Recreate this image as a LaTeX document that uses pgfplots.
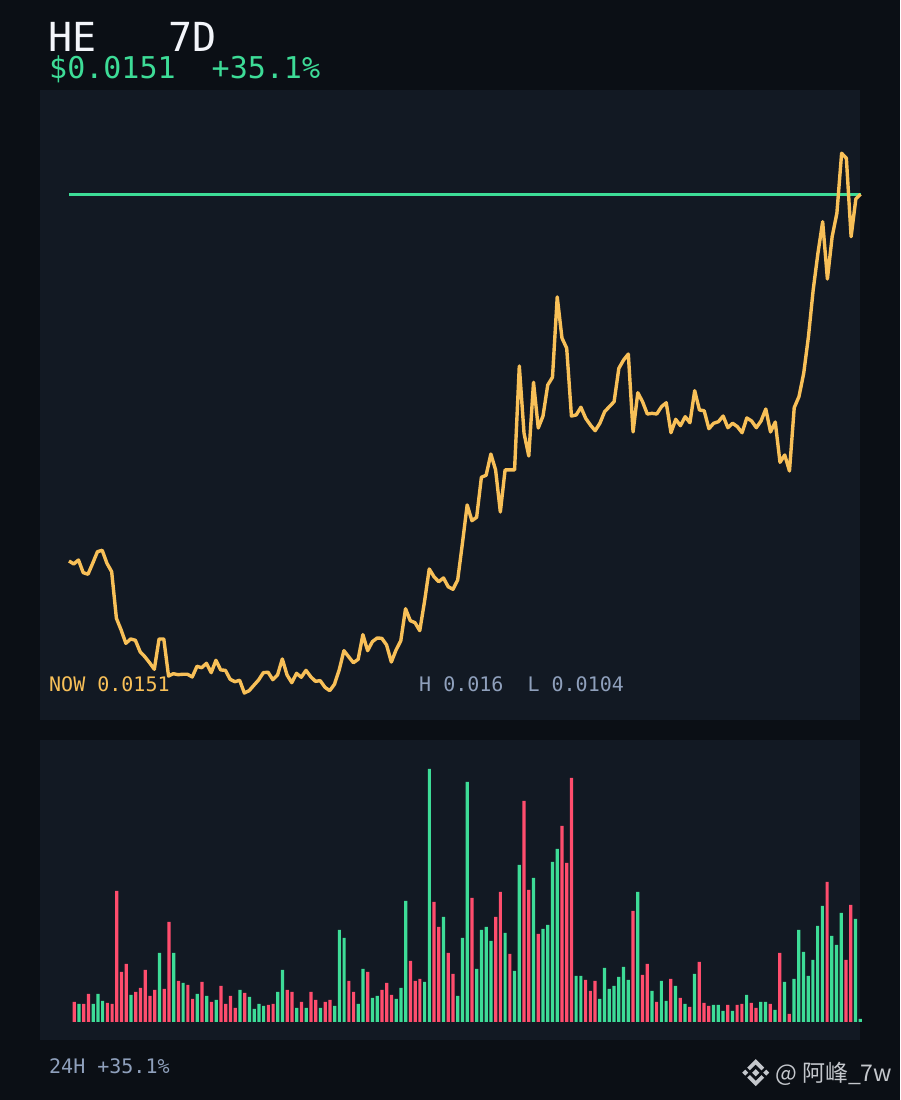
\documentclass[border=0pt]{standalone}
\usepackage{pgfplots}
\usepackage{pgfplotstable}
\usepackage{fontspec}
\pgfplotsset{compat=1.18}
\setmonofont{DejaVu Sans Mono}
\newfontfamily\cjk{Noto Sans CJK SC}
\definecolor{bgc}{RGB}{11,15,21}
\definecolor{panel}{RGB}{18,25,35}
\definecolor{upc}{HTML}{3DDC97}
\definecolor{downc}{HTML}{FF4D6D}
\definecolor{amber}{HTML}{F8C058}
\definecolor{greyc}{HTML}{8FA0BC}
\definecolor{whitec}{HTML}{F3F5FA}
\definecolor{wm}{HTML}{C4C7CC}

\pgfplotstableread{
p
0.011769
0.011738
0.011779
0.011648
0.011631
0.011745
0.011865
0.011880
0.011745
0.011658
0.011175
0.011053
0.010915
0.010960
0.010947
0.010828
0.010776
0.010714
0.010646
0.010960
0.010960
0.010576
0.010600
0.010590
0.010594
0.010594
0.010566
0.010677
0.010662
0.010708
0.010611
0.010739
0.010639
0.010635
0.010542
0.010517
0.010532
0.010400
0.010424
0.010480
0.010535
0.010611
0.010615
0.010538
0.010587
0.010753
0.010587
0.010507
0.010604
0.010563
0.010635
0.010569
0.010521
0.010528
0.010459
0.010424
0.010490
0.010639
0.010839
0.010776
0.010714
0.010749
0.011005
0.010839
0.010932
0.010970
0.010967
0.010898
0.010721
0.010846
0.010942
0.011274
0.011150
0.011129
0.011046
0.011347
0.011686
0.011606
0.011554
0.011593
0.011502
0.011475
0.011572
0.011952
0.012350
0.012187
0.012222
0.012637
0.012658
0.012878
0.012713
0.012277
0.012713
0.012713
0.012713
0.013791
0.013093
0.012858
0.013622
0.013148
0.013272
0.013594
0.013674
0.014507
0.014081
0.013975
0.013272
0.013283
0.013363
0.013249
0.013179
0.013120
0.013197
0.013317
0.013369
0.013421
0.013767
0.013853
0.013915
0.013107
0.013514
0.013421
0.013293
0.013300
0.013293
0.013369
0.013410
0.013099
0.013238
0.013172
0.013265
0.013203
0.013535
0.013335
0.013327
0.013141
0.013197
0.013213
0.013272
0.013151
0.013197
0.013162
0.013099
0.013252
0.013221
0.013151
0.013221
0.013345
0.013107
0.013210
0.012792
0.012868
0.012702
0.013359
0.013473
0.013715
0.014095
0.014579
0.014960
0.015287
0.014693
0.015132
0.015375
0.015997
0.015945
0.015132
0.015523
0.015572
}\pricetable

\pgfplotstableread{
i v
2 18
5 18
6 28
7 21
13 27
19 69
22 69
24 39
27 28
29 26
31 22
36 32
38 25
39 13
40 18
41 16
44 30
45 52
48 14
50 14
53 14
56 16
57 92
58 84
61 18
62 53
64 24
65 26
69 23
70 34
71 121
75 40
76 253
79 105
82 26
83 84
84 240
86 53
87 92
88 95
89 81
92 89
94 51
95 157
98 144
100 93
101 97
102 160
103 173
107 46
108 46
112 23
113 54
114 33
115 36
116 45
117 55
118 42
120 130
123 31
125 41
126 21
128 36
130 18
132 48
136 17
137 17
138 11
140 11
143 27
146 20
147 20
149 12
151 40
153 43
154 92
155 70
156 46
157 62
158 96
159 116
161 86
162 77
163 109
166 103
167 3
}\upvol

\pgfplotstableread{
i v
1 20
3 18
4 28
8 19
9 18
10 131
11 50
12 58
14 30
15 34
16 52
17 26
18 32
20 33
21 100
23 41
25 37
26 23
28 40
30 20
32 36
33 18
34 26
35 14
37 29
42 17
43 18
46 32
47 30
49 20
51 30
52 22
54 20
55 22
59 41
60 30
63 50
66 32
67 39
68 27
72 61
73 41
74 43
77 120
78 95
80 69
81 48
85 124
90 105
91 130
93 68
96 221
97 132
99 88
104 196
105 159
106 244
109 42
110 31
111 41
119 111
121 47
122 58
124 20
127 43
129 24
131 15
133 60
134 19
135 16
139 17
141 17
142 18
144 19
145 14
148 18
150 69
152 8
160 140
164 62
165 117
}\downvol

\begin{document}
\begin{tikzpicture}[x=1pt,y=1pt]
\fill[bgc] (0,0) rectangle (900,1100);

\begin{axis}[
  at={(40pt,380pt)},anchor=south west,
  scale only axis,width=820pt,height=630pt,
  xmin=-6.118,xmax=166.878,ymin=0.01012,ymax=0.016653,
  axis background/.style={fill=panel},
  axis line style={draw=none},ticks=none,clip=false]
\addplot[upc,line width=3pt,forget plot] coordinates {(0,0.015568)(167,0.015568)};
\addplot[amber,line width=3.4pt,line join=round,no markers] table[x expr=\coordindex,y=p] {\pricetable};
\end{axis}

\begin{axis}[
  at={(40pt,60pt)},anchor=south west,
  scale only axis,width=820pt,height=300pt,
  xmin=-6.230,xmax=166.95,ymin=-18,ymax=282,
  axis background/.style={fill=panel},
  axis line style={draw=none},ticks=none,clip=false,
  ybar,bar width=3.2pt,bar shift=0pt]
\addplot[fill=upc,draw=none] table[x=i,y=v] {\upvol};
\addplot[fill=downc,draw=none] table[x=i,y=v] {\downvol};
\end{axis}

\node[anchor=base west,inner sep=0pt,text=whitec,font=\ttfamily\fontsize{40}{40}\selectfont] at (48,1048) {HE\ \ \ 7D};
\node[anchor=base west,inner sep=0pt,text=upc,font=\ttfamily\fontsize{30}{30}\selectfont] at (49,1021.5) {\$0.0151\ \ +35.1\%};
\node[anchor=base west,inner sep=0pt,text=amber,font=\ttfamily\fontsize{20}{20}\selectfont] at (49,408) {NOW 0.0151};
\node[anchor=base west,inner sep=0pt,text=greyc,font=\ttfamily\fontsize{20}{20}\selectfont] at (419,408) {H 0.016\ \ L 0.0104};
\node[anchor=base west,inner sep=0pt,text=greyc,font=\ttfamily\fontsize{20}{20}\selectfont] at (49,27) {24H +35.1\%};
\node[anchor=base west,inner sep=0pt,text=wm,font=\cjk\fontsize{23}{23}\selectfont] at (775,19) {@ 阿峰\_7w};
\begin{scope}[shift={(755.7,27.3)},wm]
\fill (0,13.5) -- (8.5,5) -- (5.8,2.4) -- (0,8.2) -- (-5.8,2.4) -- (-8.5,5) -- cycle;
\fill (0,-13.5) -- (8.5,-5) -- (5.8,-2.4) -- (0,-8.2) -- (-5.8,-2.4) -- (-8.5,-5) -- cycle;
\fill (0,3.6) -- (3.6,0) -- (0,-3.6) -- (-3.6,0) -- cycle;
\fill (-10.5,3) -- (-7.5,0) -- (-10.5,-3) -- (-13.5,0) -- cycle;
\fill (10.5,3) -- (13.5,0) -- (10.5,-3) -- (7.5,0) -- cycle;
\end{scope}
\end{tikzpicture}
\end{document}
